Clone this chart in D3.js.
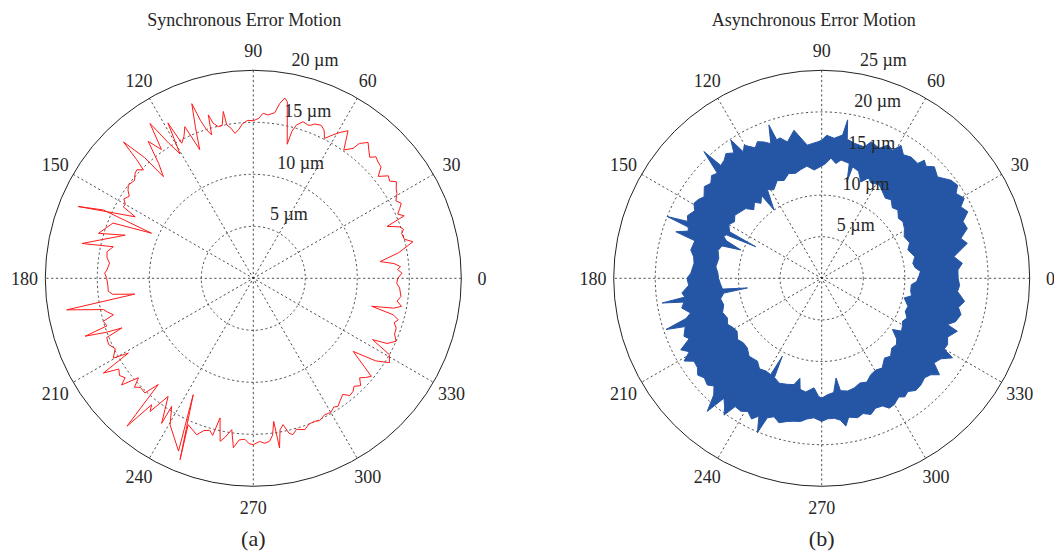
<!DOCTYPE html>
<html><head><meta charset="utf-8">
<script src="https://cdn.jsdelivr.net/npm/d3@7"></script>
<style>
body{margin:0;background:#fff;}
text{font-family:"Liberation Serif","Times New Roman",serif;fill:#262626;}
</style></head>
<body>
<svg id="chart" width="1054" height="554"></svg>
<script>
// ---------- tick labels / categories ----------
const angleTicks = [0,30,60,90,120,150,180,210,240,270,300,330];
const syncRings = [5,10,15,20];
const asyncRings = [5,10,15,20,25];
const ringUnit = "µm";
const titles = ["Synchronous Error Motion","Asynchronous Error Motion"];
const panelLabels = ["(a)","(b)"];

// ---------- synchronous error motion (deg, µm) ----------
const syncAngle = [0,2,3.5,4.5,6,7.5,10,12.9,14.5,16.9,18,19.4,21.2,22.5,24,25.5,26.9,28.5,30.6,32,34,35.5,37.2,39.2,41.1,43,44.7,46.1,48,49.8,51.8,52.5,54.8,56,57.3,59,60.9,63,64.5,66.1,68.3,69.5,70.4,72.4,74.3,75.3,75.5,75.8,79.1,80.1,81.4,82.6,84.9,86.6,88,90,
92,94,95.5,97.2,98.5,99.8,100.2,101.5,103,104.5,105.4,106.2,107.5,108.5,109.4,111,112.6,114.3,116,117.9,118.8,120.5,122,123.7,125.5,127.5,129.5,131.5,132,133.6,134.5,135.4,137,138.4,140.5,143.3,145,146.5,148.5,150,151.2,152.5,157.7,155.5,156.1,158.5,163.8,161.4,168.5,167.3,169.7,172,174,176.8,178,
180,183,185.1,186.5,187.6,189.6,191.8,193,194.6,196,198,199,200.2,200.7,202,204.6,207,209.7,210.9,212.3,214,216,217.8,219,220.9,222.5,224,226.6,228.2,229.5,231.2,232.2,234.2,237.7,237.5,240.4,246.6,242.7,248,246,250.1,252,254,255.5,256.6,258.5,260,261.9,263.3,265,267,268.5,
270,272.2,274,275.7,277,278.1,278.8,280,281.5,283,284.2,286,288.8,291,293.2,295,297.6,300,302,303.5,305.5,307.6,309.5,311.4,313,315,316.9,318.5,320.3,323.8,326,328.2,330.7,332.8,334,336.2,338.5,340.8,342.5,344,345.4,346.7,348,349.3,351,353,356.2,358];
const syncRadius = [13.9,14.3,13.9,14.2,13.6,12.3,14.2,15.75,15.0,14.9,15.2,14.9,13.8,15.7,15.2,15.6,15.95,15.6,16.05,16.2,16.6,16.1,16.3,15.5,16.3,16.4,16.6,16.15,16.6,17.1,16.5,15.75,15.1,15.9,16.86,16.4,15.8,15.1,15.8,16.1,15.97,15.7,15.65,15.8,15.3,14.6,14.1,13.3,17.3,17.6,17.0,16.06,15.77,15.9,15.4,15.15,
15.2,14.9,14.4,14.05,14.6,14.96,16.3,15.0,14.96,15.4,16.3,14.35,15.0,16.0,17.8,15.5,13.4,16.0,15.2,14.7,17.05,13.9,15.3,17.9,15.2,16.6,14.3,13.05,15.6,18.1,16.0,14.84,15.3,15.2,14.8,15.0,14.7,14.3,14.6,14.2,14.27,12.8,18.2,15.85,10.7,14.5,15.5,13.0,16.8,13.8,14.3,14.2,13.9,14.1,14.3,
14.1,14.0,14.0,13.6,11.5,18.2,14.7,14.4,13.9,15.0,14.8,17.1,15.0,13.5,15.2,15.3,14.9,15.5,14.0,17.06,15.6,15.9,15.6,16.3,14.6,15.5,15.1,15.17,13.7,18.7,15.6,16.2,14.0,16.5,14.6,16.2,18.1,12.6,18.8,15.4,16.0,15.4,15.2,15.6,13.8,16.0,15.5,14.7,16.4,15.6,15.5,15.9,
16.0,15.7,15.9,15.75,15.2,13.9,16.5,14.8,14.36,15.3,15.5,15.1,15.37,15.0,14.96,15.1,14.8,14.9,14.6,14.76,14.4,14.1,14.6,14.5,14.2,14.6,14.0,14.4,14.75,11.9,14.2,15.4,15.0,12.9,14.3,15.0,14.6,14.55,14.2,14.5,13.9,11.7,13.8,14.5,14.0,14.3,14.1,13.8];

// ---------- asynchronous error motion: outer / inner edge of the traced band (deg, µm) ----------
const asyncOuterAngle = [0,3.5,6.1,9.3,13.5,16,18.9,21.9,24.5,27.2,29.3,32.3,34.4,37.2,41.2,44.7,47,49,50.1,53.7,56.5,59.2,61,63.5,66.1,70.1,72,76.4,79.6,80.7,81.7,84.9,88,90,91.8,96.2,100.6,104.1,106.5,108,109,110.7,113,115.2,117,120.2,121.8,123.3,125,127.5,129.6,131.8,132.9,134.8,137,139.4,142,145.3,147.5,149.6,152,155,157,158.2,159,160.5,162.3,163.5,167.8,170.5,173.3,177.8,
180,183,186,187.8,188.8,189.8,192,194.8,196.5,198.2,199.5,202.8,204.5,206.9,209,211,213,215.8,218,220.3,223,225,227.2,229.3,230.8,232.8,234.5,236,238.7,241,243.5,245.5,247.4,248.7,251,253.5,256.5,259,261.6,264,266.8,
270,272.5,275.2,277.5,279.3,281,284.5,287,289.9,292.5,295.5,297.5,299.9,303,305,307.3,310,313,316,318.5,320.7,323,326,328.7,330,332.2,335,338.7,339.8,342,345.4,348,350.8,354.5,357];
const asyncOuterRadius = [16.4,16.4,17.0,16.1,18.0,17.4,18.5,18.3,19.3,18.8,19.65,19.1,19.8,19.5,18.5,19.05,18.4,18.8,18.0,18.1,17.8,18.6,17.6,17.9,17.1,17.45,16.6,16.7,17.0,19.3,17.4,16.9,17.2,16.6,16.4,16.1,18.1,16.9,17.6,17.5,19.5,17.3,17.8,18.15,17.6,18.5,17.9,19.9,18.4,18.9,18.4,18.2,20.8,17.8,18.1,17.55,17.9,17.2,17.6,17.8,17.3,17.8,17.5,20.0,17.2,17.0,18.4,15.9,16.1,15.6,15.45,15.75,
16.2,16.0,16.9,16.6,19.4,16.8,17.2,16.3,17.0,19.7,17.4,17.96,17.5,19.0,18.2,19.3,18.3,18.4,18.9,18.5,18.8,18.3,19.1,21.1,18.6,19.3,20.2,18.6,18.7,18.3,18.9,18.2,20.1,18.0,17.6,18.1,17.7,17.5,17.4,17.0,16.8,
17.2,16.9,16.9,17.2,18.0,17.0,17.3,17.0,17.4,16.9,17.0,17.6,17.5,17.0,17.4,17.1,17.6,17.5,17.2,17.5,18.3,16.9,17.3,18.4,17.0,17.1,16.7,17.5,16.1,16.9,17.3,16.8,17.4,16.4,16.6];
const asyncInnerAngle = [0,4,6.5,9.4,13,18.2,22,26.7,31,34.9,38,41.9,45,48.5,51.5,54.8,58.5,62.6,65,67.9,71,74.5,75.3,76.5,80.7,83,85.6,88,90,94,97.5,101,104,107.5,111,114.5,118.4,121.5,124.9,126,129,131.5,134.7,137.5,140.5,144,147,150,153.2,154.4,155.5,156.9,158.5,160.7,162,165,169,173.8,177,
180,183,186.2,187.4,188.6,191.5,195.1,199,202.8,206,209,212.1,216,219.5,223.1,227,232.2,235.5,239,242.1,243.2,244.5,248,252,255.4,257.7,259,262,266,268.5,
270,273,276,278.2,279.5,283,286.5,290,293.5,297,300.5,304,308.2,311.5,315,318.5,321,324.1,326.5,329,332,335,338.5,342,346.6,349,352,355.9,358];
const asyncInnerRadius = [11.6,11.9,11.3,11.1,11.5,10.9,11.4,11.1,11.6,11.9,11.7,12.3,12.0,12.6,12.3,12.7,13.2,12.9,13.3,12.5,13.6,13.9,12.0,14.2,14.4,13.9,14.5,13.8,13.5,13.05,13.6,13.3,13.0,13.2,12.6,12.9,12.1,12.5,10.0,12.3,11.6,12.2,11.6,12.4,12.6,12.9,12.5,12.9,12.4,8.8,12.6,12.8,12.3,10.3,12.6,12.9,12.6,12.8,12.5,
12.4,12.2,12.0,9.0,11.9,12.4,12.2,12.6,12.3,12.6,12.2,12.0,12.5,12.2,12.25,12.8,12.6,13.2,13.0,13.1,10.5,13.2,13.6,13.4,13.2,12.3,13.6,13.8,13.2,14.2,
14.4,14.0,13.8,12.1,13.7,13.9,13.75,13.4,13.6,13.0,12.8,13.0,12.2,12.5,11.9,12.0,11.6,10.5,11.5,11.3,11.0,11.3,10.8,10.9,10.2,11.0,10.8,10.8,11.4];

// ---------- drawing ----------
const svg = d3.select("#chart");
const RED = "#ff1a1a", BLUE = "#2556a6";

function panel(cx, cy, R, rings, title, label, titleDx) {
  const rmax = rings[rings.length - 1];
  const rinc = rings[1] - rings[0];
  const r = d3.scaleLinear().domain([0, rmax]).range([0, R]);
  const g = svg.append("g").attr("transform", `translate(${cx},${cy})`);
  const rad = a => a * Math.PI / 180;
  const gridG = g.append("g");
  gridG.selectAll("circle").data(rings.slice(0, -1)).join("circle")
    .attr("r", d => r(d)).attr("fill", "none").attr("stroke", "#222")
    .attr("stroke-width", 0.8).attr("stroke-dasharray", "2.2,2.6");
  gridG.selectAll("line").data(angleTicks.filter(a => a < 180)).join("line")
    .attr("x1", d => r(rmax) * Math.cos(rad(d))).attr("y1", d => -r(rmax) * Math.sin(rad(d)))
    .attr("x2", d => -r(rmax) * Math.cos(rad(d))).attr("y2", d => r(rmax) * Math.sin(rad(d)))
    .attr("stroke", "#222").attr("stroke-width", 0.8).attr("stroke-dasharray", "2.2,2.6");
  const dataG = g.append("g");
  g.append("circle").attr("r", r(rmax)).attr("fill", "none").attr("stroke", "#222").attr("stroke-width", 1);
  const rl = r(rmax * 1.1);
  g.append("g").selectAll("text").data(angleTicks).join("text")
    .attr("x", d => rl * Math.cos(rad(d))).attr("y", d => -rl * Math.sin(rad(d)) + 7)
    .attr("text-anchor", "middle").attr("font-size", 18).text(d => d);
  g.append("g").selectAll("text").data(rings).join("text")
    .attr("x", d => r(d + rinc / 20) * Math.cos(rad(82)))
    .attr("y", d => -r(d + rinc / 20) * Math.sin(rad(82)) - 4)
    .attr("text-anchor", "start").attr("font-size", 18)
    .text(d => "\u00a0\u00a0" + d + " " + ringUnit);
  svg.append("text").attr("x", cx + titleDx).attr("y", 26).attr("text-anchor", "middle")
    .attr("font-size", 18).text(title);
  svg.append("text").attr("x", cx).attr("y", 546).attr("text-anchor", "middle")
    .attr("font-size", 22).text(label);
  return {dataG, r, rad};
}

// Left panel
const L = panel(253.3, 278.3, 208, syncRings, titles[0], panelLabels[0], -9);
const syncPts = syncAngle.map((a, i) => [a, syncRadius[i]]);
const syncLine = d3.lineRadial().angle(d => L.rad(90 - d[0])).radius(d => L.r(d[1])).curve(d3.curveLinearClosed);
L.dataG.append("path").attr("d", syncLine(syncPts)).attr("fill", "none")
  .attr("stroke", RED).attr("stroke-width", 1).attr("stroke-linejoin", "round");

// Right panel
const Rp = panel(821.7, 278.3, 208, asyncRings, titles[1], panelLabels[1], -8);
const ringLine = d3.lineRadial().angle(d => Rp.rad(90 - d[0])).radius(d => Rp.r(d[1])).curve(d3.curveLinearClosed);
const outerPts = asyncOuterAngle.map((a, i) => [a, asyncOuterRadius[i]]);
const innerPts = asyncInnerAngle.map((a, i) => [a, asyncInnerRadius[i]]);
Rp.dataG.append("path").attr("d", ringLine(outerPts) + ringLine(innerPts))
  .attr("fill", BLUE).attr("fill-rule", "evenodd").attr("stroke", BLUE).attr("stroke-width", 1)
  .attr("stroke-linejoin", "miter").attr("stroke-miterlimit", 20);
</script>
</body></html>
